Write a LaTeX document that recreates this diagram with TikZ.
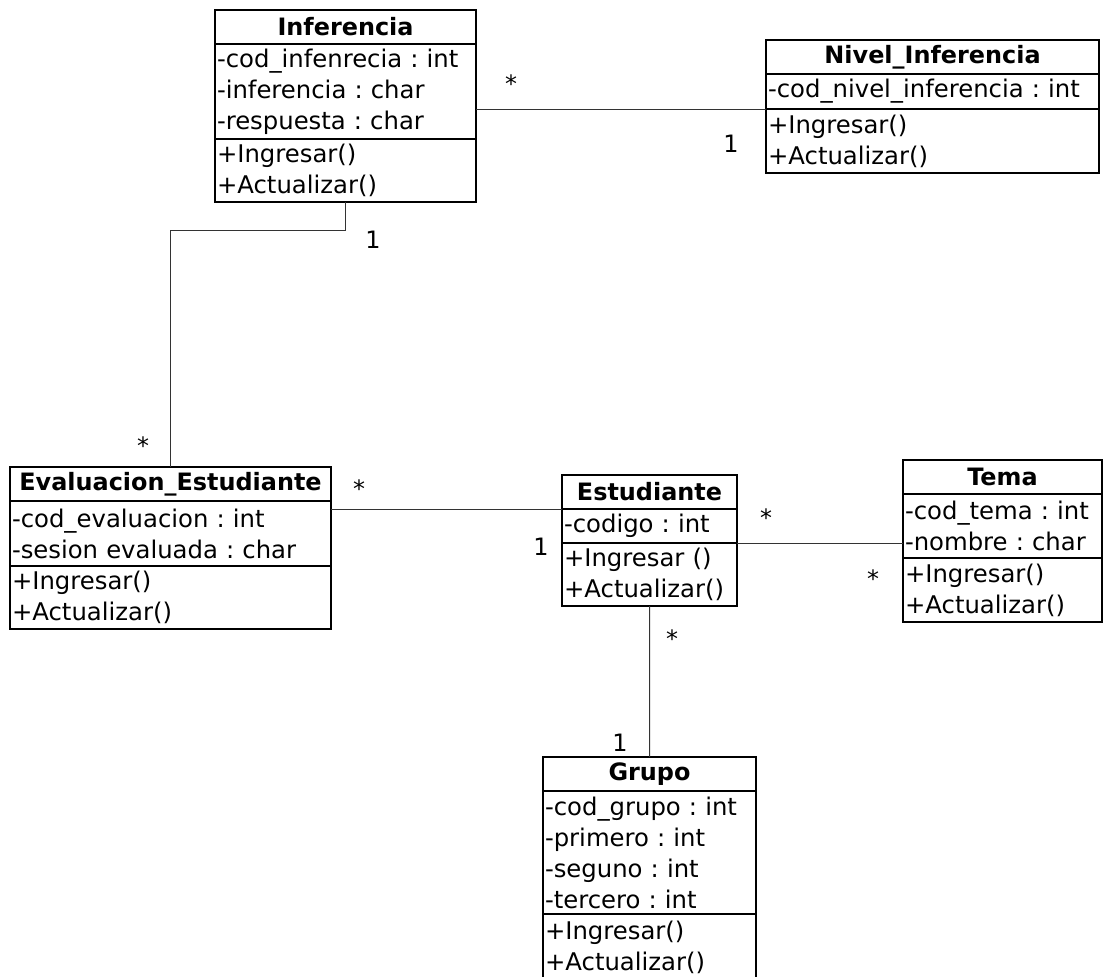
\documentclass[tikz,border=0pt]{standalone}
\usepackage{fontspec}
\setmainfont{DejaVu Sans}
\frenchspacing
\begin{document}
\begin{tikzpicture}[x=0.025cm, y=-0.025cm,
    classhead/.style={draw, line width=0.9pt, anchor=north west, inner sep=0pt, outer sep=0pt, minimum height=0.85cm, align=center, font=\fontsize{17}{22}\selectfont\bfseries},
    classpart/.style={draw, line width=0.9pt, anchor=north west, inner xsep=0.05cm, inner ysep=0pt, outer sep=0pt, align=left, font=\fontsize{17.3}{22}\selectfont},
    assoc/.style={draw=black!80, line width=0.7pt},
    mult/.style={anchor=base, inner sep=0pt, font=\fontsize{17}{22}\selectfont},
  ]

\useasboundingbox (0,0) rectangle (1104,976);
\clip (0,0) rectangle (1104,976);

% Inferencia
\node[classhead, minimum width=6.525cm] (inf-h) at (215,10) {Inferencia};
\node[classpart, text width=6.425cm, minimum height=2.375cm] (inf-a) at (inf-h.south west) {-cod\_infenrecia : int\\-inferencia : char\\-respuesta : char};
\node[classpart, text width=6.425cm, minimum height=1.575cm] (inf-m) at (inf-a.south west) {+Ingresar()\\+Actualizar()};

% Nivel_Inferencia
\node[classhead, minimum width=8.325cm] (niv-h) at (766,40) {Nivel\_Inferencia};
\node[classpart, text width=8.225cm, minimum height=0.875cm] (niv-a) at (niv-h.south west) {-cod\_nivel\_inferencia : int};
\node[classpart, text width=8.225cm, minimum height=1.6cm] (niv-m) at (niv-a.south west) {+Ingresar()\\+Actualizar()};

% Evaluacion_Estudiante
\node[classhead, minimum width=8.025cm] (eva-h) at (10,467) {Evaluacion\_Estudiante};
\node[classpart, text width=7.925cm, minimum height=1.625cm] (eva-a) at (eva-h.south west) {-cod\_evaluacion : int\\-sesion evaluada : char};
\node[classpart, text width=7.925cm, minimum height=1.575cm] (eva-m) at (eva-a.south west) {+Ingresar()\\+Actualizar()};

% Estudiante
\node[classhead, minimum width=4.375cm] (est-h) at (562,475) {Estudiante};
\node[classpart, text width=4.275cm, minimum height=0.85cm] (est-a) at (est-h.south west) {-codigo : int};
\node[classpart, text width=4.275cm, minimum height=1.575cm] (est-m) at (est-a.south west) {+Ingresar ()\\+Actualizar()};

% Tema
\node[classhead, minimum width=4.975cm] (tem-h) at (903,460) {Tema};
\node[classpart, text width=4.875cm, minimum height=1.6cm] (tem-a) at (tem-h.south west) {-cod\_tema : int\\-nombre : char};
\node[classpart, text width=4.875cm, minimum height=1.6cm] (tem-m) at (tem-a.south west) {+Ingresar()\\+Actualizar()};

% Grupo
\node[classhead, minimum width=5.325cm] (gru-h) at (543,757) {Grupo};
\node[classpart, text width=5.225cm, minimum height=3.075cm] (gru-a) at (gru-h.south west) {-cod\_grupo : int\\-primero : int\\-seguno : int\\-tercero : int};
\node[classpart, text width=5.225cm, minimum height=1.65cm] (gru-m) at (gru-a.south west) {+Ingresar()\\+Actualizar()};

% asociaciones
\draw[assoc] (inf-a.east |- niv-a.south west) -- (niv-a.south west);
\draw[assoc] (inf-m.south) -- ++(0,28) -| (eva-h.north);
\draw[assoc] (eva-a.east |- est-h.south west) -- (est-h.south west);
\draw[assoc] (est-a.south east) -- (est-a.south east -| tem-a.west);
\draw[assoc] (est-m.south) -- (gru-h.north);

% multiplicidades
\node[mult] (m-inf-niv) at (511,92) {*};
\node[mult] (m-niv-inf) at (731,152) {1};
\node[mult] (m-inf-eva) at (373,248) {1};
\node[mult] (m-eva-inf) at (143,454) {*};
\node[mult] (m-eva-est) at (359,497) {*};
\node[mult] (m-est-eva) at (541,555) {1};
\node[mult] (m-est-tem) at (766,526) {*};
\node[mult] (m-tem-est) at (873,587) {*};
\node[mult] (m-est-gru) at (672,647) {*};
\node[mult] (m-gru-est) at (620,751) {1};
\end{tikzpicture}
\end{document}
